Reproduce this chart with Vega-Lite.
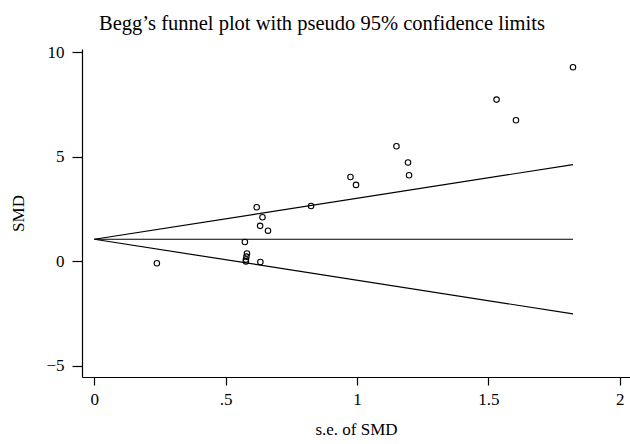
{
  "$schema": "https://vega.github.io/schema/vega-lite/v6.json",
  "autosize": {"type": "none"},
  "padding": {"left": 82, "top": 49, "right": 0, "bottom": 67},
  "width": 548,
  "height": 328,
  "background": "white",
  "title": {
    "text": "Begg’s funnel plot with pseudo 95% confidence limits",
    "font": "Liberation Serif",
    "fontSize": 20.5,
    "fontWeight": "normal",
    "color": "black",
    "anchor": "middle",
    "frame": "group",
    "dx": -34,
    "offset": 9
  },
  "config": {
    "view": {"stroke": null},
    "axis": {
      "grid": false,
      "domainColor": "black",
      "domainWidth": 1.2,
      "tickColor": "black",
      "tickWidth": 1.2,
      "labelFont": "Liberation Serif",
      "labelFontSize": 17,
      "labelColor": "black",
      "titleFont": "Liberation Serif",
      "titleFontSize": 17,
      "titleFontWeight": "normal",
      "titleColor": "black"
    }
  },
  "datasets": {
    "studies": [
      {"se": 0.238, "smd": -0.10},
      {"se": 0.573, "smd": 0.92},
      {"se": 0.581, "smd": 0.37},
      {"se": 0.579, "smd": 0.22},
      {"se": 0.577, "smd": 0.08},
      {"se": 0.577, "smd": -0.01},
      {"se": 0.618, "smd": 2.58},
      {"se": 0.640, "smd": 2.10},
      {"se": 0.631, "smd": 1.69},
      {"se": 0.661, "smd": 1.46},
      {"se": 0.632, "smd": -0.04},
      {"se": 0.825, "smd": 2.64},
      {"se": 0.975, "smd": 4.03},
      {"se": 0.996, "smd": 3.65},
      {"se": 1.150, "smd": 5.50},
      {"se": 1.194, "smd": 4.72},
      {"se": 1.198, "smd": 4.11},
      {"se": 1.531, "smd": 7.73},
      {"se": 1.605, "smd": 6.74},
      {"se": 1.822, "smd": 9.28}
    ],
    "limits": [
      {"line": "upper", "se": 0, "smd": 1.05},
      {"line": "upper", "se": 1.822, "smd": 4.62},
      {"line": "center", "se": 0, "smd": 1.05},
      {"line": "center", "se": 1.822, "smd": 1.05},
      {"line": "lower", "se": 0, "smd": 1.05},
      {"line": "lower", "se": 1.822, "smd": -2.52}
    ]
  },
  "layer": [
    {
      "data": {"name": "limits"},
      "mark": {"type": "line", "color": "black", "strokeWidth": 1.2},
      "encoding": {
        "x": {"field": "se", "type": "quantitative"},
        "y": {"field": "smd", "type": "quantitative"},
        "detail": {"field": "line", "type": "nominal"}
      }
    },
    {
      "data": {"name": "studies"},
      "mark": {"type": "point", "shape": "circle", "filled": false, "color": "black", "size": 30, "strokeWidth": 1.1, "opacity": 1},
      "encoding": {
        "x": {
          "field": "se",
          "type": "quantitative",
          "title": "s.e. of SMD",
          "scale": {"domain": [-0.047, 2.039], "nice": false, "zero": false},
          "axis": {
            "values": [0, 0.5, 1, 1.5, 2],
            "format": "~g",
            "labelExpr": "datum.value == 0.5 ? '.5' : datum.label",
            "tickSize": 8,
            "labelPadding": 6,
            "titlePadding": 14
          }
        },
        "y": {
          "field": "smd",
          "type": "quantitative",
          "title": "SMD",
          "scale": {"domain": [-5.54, 10.15], "nice": false, "zero": false},
          "axis": {
            "values": [-5, 0, 5, 10],
            "tickSize": 10,
            "labelPadding": 8,
            "titlePadding": 18
          }
        }
      }
    }
  ]
}
